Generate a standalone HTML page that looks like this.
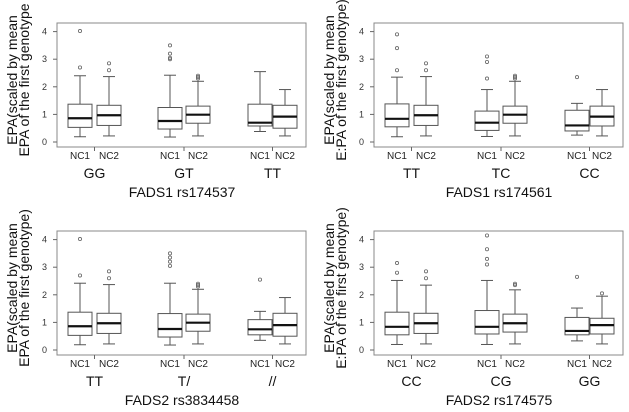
<!DOCTYPE html>
<html><head><meta charset="utf-8"><style>
html,body{margin:0;padding:0;background:#fff;width:629px;height:412px;overflow:hidden}
svg{display:block;font-family:"Liberation Sans",Arial,sans-serif}
</style></head><body>
<svg id="c" width="629" height="412" viewBox="0 0 629 412"></svg>
<script>
const panelTitles = ["FADS1 rs174537","FADS1 rs174561","FADS2 rs3834458","FADS2 rs174575"];
const genotypes = [["GG","GT","TT"],["TT","TC","CC"],["TT","T/","//"],["CC","CG","GG"]];
const yLabel2 = ["EPA of the first genotype","E:PA of the first genotype)","EPA of the first genotype)","E:PA of the first genotype)"];
const groupLabels = ["NC1","NC2"];
const yTicks = [0,1,2,3,4];
const stats0 = [[0.19,0.53,0.86,1.37,2.4],[0.22,0.6,0.97,1.33,2.37],[0.18,0.47,0.76,1.25,2.42],[0.22,0.68,0.99,1.3,2.2],[0.38,0.58,0.7,1.37,2.55],[0.22,0.5,0.92,1.33,1.9]];
const out0 = [[2.7,4.02],[2.6,2.85],[3.0,3.05,3.2,3.5],[2.3,2.35,2.4],[],[]];
const stats1 = [[0.19,0.55,0.84,1.38,2.35],[0.22,0.6,0.97,1.33,2.37],[0.2,0.42,0.7,1.12,1.9],[0.22,0.68,0.99,1.3,2.2],[0.25,0.4,0.6,1.15,1.4],[0.22,0.58,0.92,1.3,1.9]];
const out1 = [[2.6,3.4,3.9],[2.6,2.85],[2.3,2.9,3.1],[2.3,2.35,2.4],[2.35],[]];
const stats2 = [[0.19,0.53,0.86,1.37,2.42],[0.22,0.6,0.97,1.33,2.37],[0.18,0.47,0.76,1.32,2.42],[0.22,0.68,0.99,1.3,2.2],[0.35,0.55,0.75,1.1,1.4],[0.22,0.5,0.9,1.33,1.9]];
const out2 = [[2.7,4.02],[2.6,2.85],[3.05,3.2,3.35,3.5],[2.3,2.35,2.4],[2.55],[]];
const stats3 = [[0.2,0.55,0.84,1.37,2.52],[0.22,0.6,0.97,1.33,2.35],[0.2,0.58,0.84,1.43,2.52],[0.22,0.65,0.97,1.3,2.18],[0.33,0.55,0.69,1.18,1.52],[0.22,0.58,0.9,1.15,1.95]];
const out3 = [[2.8,3.15],[2.6,2.85],[3.1,3.3,3.65,4.15],[2.35,2.4],[2.65],[2.05]];
const allStats=[stats0,stats1,stats2,stats3], allOut=[out0,out1,out2,out3];

const NS="http://www.w3.org/2000/svg";
const svg=document.getElementById('c');
function mk(tag,attrs,parent,text){const e=document.createElementNS(NS,tag);for(const k in attrs)e.setAttribute(k,attrs[k]);if(text!==undefined)e.textContent=text;parent.appendChild(e);return e;}
const offs=[[0,0],[317,0],[0,208],[317,208]];
const boxX=[80,109,170,198,260,285];
for(let p=0;p<4;p++){
  const ox=offs[p][0], oy=offs[p][1];
  const g=mk('g',{transform:`translate(${ox},${oy})`},svg);
  
  
  const y=v=>142-v*27.6;
  const fr=mk('rect',{x:57,y:23,width:249,height:124,fill:'none',stroke:'#888','stroke-width':1},g);
  
  yTicks.forEach(t=>{
    mk('line',{x1:53,x2:57,y1:y(t),y2:y(t),stroke:'#666'},g);
    const tl=mk('text',{x:47,y:y(t)+3,'font-size':9,'text-anchor':'end',fill:'#333'},g,String(t));
    
  });
  const yl=mk('text',{transform:'translate(17,80) rotate(-90)','font-size':14,'text-anchor':'middle',fill:'#111'},g,'EPA(scaled by mean');
  
  const yl2=mk('text',{transform:'translate(29,80) rotate(-90)','font-size':14,'text-anchor':'middle',fill:'#111'},g,yLabel2[p]);
  
  const st=allStats[p], ou=allOut[p];
  for(let i=0;i<6;i++){
    const cx=boxX[i], s=st[i], hw=12;
    const bg=mk('g',{},g);
    
    
    mk('line',{x1:cx,x2:cx,y1:y(s[0]),y2:y(s[1]),stroke:'#555'},bg);
    mk('line',{x1:cx,x2:cx,y1:y(s[3]),y2:y(s[4]),stroke:'#555'},bg);
    mk('line',{x1:cx-6,x2:cx+6,y1:y(s[0]),y2:y(s[0]),stroke:'#555'},bg);
    mk('line',{x1:cx-6,x2:cx+6,y1:y(s[4]),y2:y(s[4]),stroke:'#555'},bg);
    mk('rect',{x:cx-hw,y:y(s[3]),width:hw*2,height:y(s[1])-y(s[3]),fill:'#fff',stroke:'#555'},bg);
    mk('line',{x1:cx-hw,x2:cx+hw,y1:y(s[2]),y2:y(s[2]),stroke:'#111','stroke-width':2.2},bg);
    ou[i].forEach(v=>mk('circle',{cx:cx,cy:y(v),r:1.6,fill:'none',stroke:'#666','stroke-width':0.8},bg));
    const nl=mk('text',{x:cx,y:159,'font-size':10,'text-anchor':'middle',fill:'#222'},g,groupLabels[i%2]);
    
  }
  for(let k=0;k<3;k++){
    const mx=(boxX[2*k]+boxX[2*k+1])/2;
    mk('line',{x1:mx,x2:mx,y1:147,y2:151,stroke:'#666'},g);
    const gl=mk('text',{x:mx,y:178,'font-size':14,'text-anchor':'middle',fill:'#111'},g,genotypes[p][k]);
    
  }
  const tt=mk('text',{x:182,y:197,'font-size':14,'text-anchor':'middle',fill:'#111'},g,panelTitles[p]);
  
}
</script>
</body></html>
